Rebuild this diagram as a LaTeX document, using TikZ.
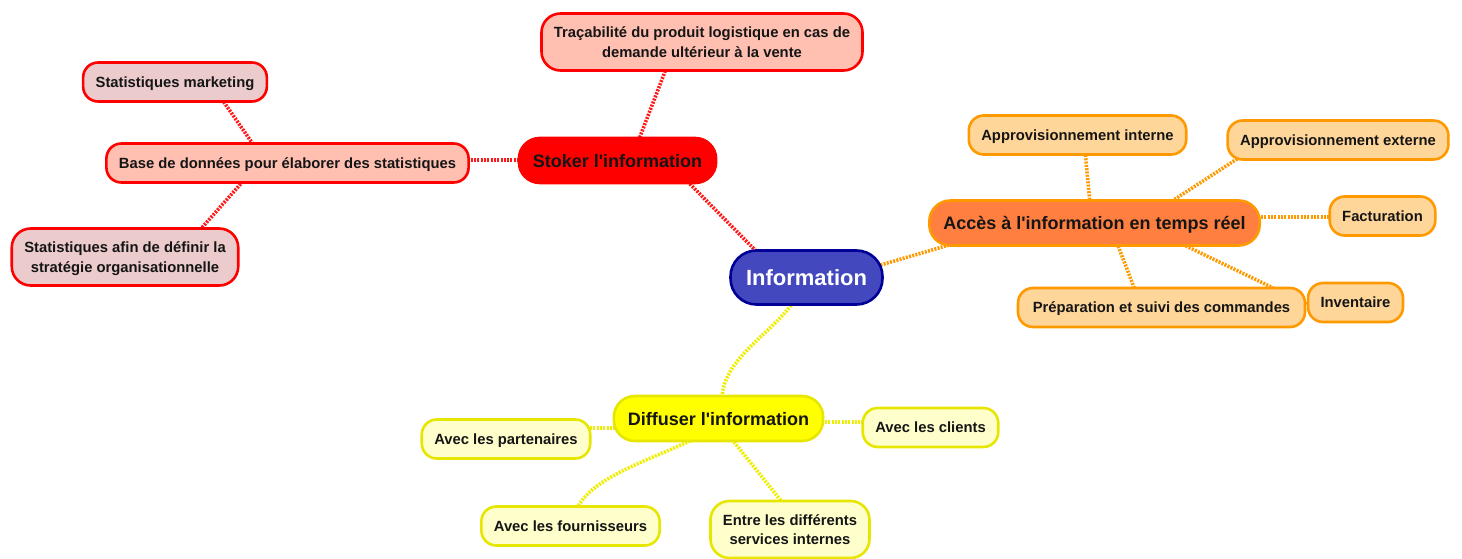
\documentclass[tikz,border=0pt]{standalone}
\usepackage{fontspec}
\setmainfont{Liberation Sans}[Ligatures=TeXOff]
\usetikzlibrary{calc}
\pgfdeclarelayer{paper}
\pgfdeclarelayer{links}
\pgfsetlayers{paper,links,main}

\definecolor{txt}{HTML}{151515}
\definecolor{redc}{HTML}{FF0000}
\definecolor{redlink}{HTML}{FF1A1A}
\definecolor{salmon}{HTML}{FFC0B2}
\definecolor{pinkgray}{HTML}{EBCBCB}
\definecolor{infofill}{HTML}{4348BE}
\definecolor{infoline}{HTML}{000096}
\definecolor{orangec}{HTML}{FF9900}
\definecolor{orangefill}{HTML}{FF7F40}
\definecolor{orangeleaf}{HTML}{FFD699}
\definecolor{yellowc}{HTML}{FFFF00}
\definecolor{yellowline}{HTML}{E6E600}
\definecolor{yellowleaf}{HTML}{FFFFCC}
\definecolor{yellowlink}{HTML}{EEEE00}

\tikzset{
  leafbox/.style={draw, line width=2.6pt, rounded corners=15pt, align=center,
    inner xsep=12.5pt, inner ysep=0pt, minimum height=39pt, text=txt, text depth=0pt,
    font=\bfseries\fontsize{14.8}{19.5}\selectfont},
  twoline/.style={minimum height=57pt, rounded corners=19pt},
  branchbox/.style={draw, line width=2.6pt, rounded corners=21pt, align=center,
    inner xsep=14pt, inner ysep=0pt, minimum height=45pt, text=txt, text depth=0pt,
    font=\bfseries\fontsize{18}{21}\selectfont},
  rootbox/.style={draw=infoline, fill=infofill, line width=2.6pt, rounded corners=26pt,
    inner xsep=15.5pt, inner ysep=0pt, minimum height=54pt, text=white, text depth=0pt,
    font=\bfseries\fontsize{22}{26}\selectfont},
  redleaf/.style={leafbox, draw=redc, fill=pinkgray},
  redmid/.style={leafbox, draw=redc, fill=salmon},
  orangeleafbox/.style={leafbox, draw=orangec, fill=orangeleaf},
  yellowleafbox/.style={leafbox, draw=yellowline, fill=yellowleaf},
  link/.style={line width=3.6pt, dash pattern=on 2pt off 1.3pt},
  redl/.style={link, draw=redlink},
  orangel/.style={link, draw=orangec},
  yellowl/.style={link, draw=yellowlink}
}

\begin{document}
\begin{tikzpicture}[x=1pt, y=-1pt]
\begin{pgfonlayer}{paper}
  \fill[white] (0,0) rectangle (1462,559);
\end{pgfonlayer}
\useasboundingbox (0,0) rectangle (1462,559);

% central topic
\node[rootbox] (info) at (806.5,277.5) {Information};

% storage branch
\node[branchbox, draw=redc, fill=redc] (stoker) at (617.5,160.5) {Stoker l'information};
\node[redmid, twoline] (trac) at (702,42) {Traçabilité du produit logistique en cas de\\demande ultérieur à la vente};
\node[redmid] (base) at (287.5,163) {Base de données pour élaborer des statistiques};
\node[redleaf] (mkt) at (175,82) {Statistiques marketing};
\node[redleaf, twoline] (afin) at (125,257) {Statistiques afin de définir la\\stratégie organisationnelle};

% real-time access branch
\node[branchbox, draw=orangec, fill=orangefill] (acces) at (1094.5,223) {Accès à l'information en temps réel};
\node[orangeleafbox] (appint) at (1077.5,135) {Approvisionnement interne};
\node[orangeleafbox] (appext) at (1338,140) {Approvisionnement externe};
\node[orangeleafbox] (fact) at (1382.5,216) {Facturation};
\node[orangeleafbox, minimum width=287pt] (prep) at (1161.5,307.5) {Préparation et suivi des commandes};
\node[orangeleafbox] (inv) at (1355.5,302.5) {Inventaire};

% distribution branch
\node[branchbox, draw=yellowline, fill=yellowc] (diff) at (718.5,418.5) {Diffuser l'information};
\node[yellowleafbox] (part) at (506,439) {Avec les partenaires};
\node[yellowleafbox] (four) at (570.5,526) {Avec les fournisseurs};
\node[yellowleafbox] (clients) at (930.5,427.5) {Avec les clients};
\node[yellowleafbox, twoline] (entre) at (790,529.5) {Entre les différents\\services internes};

\begin{pgfonlayer}{links}
  % red links
  \draw[redl] ($(stoker)+(70,21)$) -- ($(info)+(-49,-25)$);
  \draw[redl] ($(stoker)+(21,-20)$) -- ($(trac)+(-36,27)$);
  \draw[redl] ($(base)+(180,-3)$) -- ($(stoker)+(-95,-0.5)$);
  \draw[redl] ($(base)+(-32.5,-16)$) -- ($(mkt)+(46,16)$);
  \draw[redl] ($(base)+(-42.5,16)$) -- ($(afin)+(74,-26)$);
  % orange links
  \draw[orangel] ($(info)+(74,-12.5)$) -- ($(acces)+(-142,21)$);
  \draw[orangel] ($(acces)+(-4.5,-20)$) -- ($(appint)+(7.5,16)$);
  \draw[orangel] ($(acces)+(74.5,-20)$) -- ($(appext)+(-98,17)$);
  \draw[orangel] ($(acces)+(160,-6)$) -- ($(fact)+(-50,1)$);
  \draw[orangel] ($(acces)+(22.5,20)$) -- ($(prep)+(-26.5,-17.5)$);
  \draw[orangel] ($(acces)+(85.5,20)$) -- ($(inv)+(-43,4.5)$);
  % yellow links
  \draw[yellowl] ($(info)+(-13.5,25)$) .. controls (770,335) and (722,360) .. ($(diff)+(3.5,-19.5)$);
  \draw[yellowl] ($(diff)+(-100,9.5)$) -- ($(part)+(82,-11)$);
  \draw[yellowl] ($(diff)+(100,3.5)$) -- ($(clients)+(-63,-5.5)$);
  \draw[yellowl] ($(diff)+(-25.5,21)$) .. controls (650,460) and (590,478) .. ($(four)+(6.5,-17)$);
  \draw[yellowl] ($(diff)+(13.5,21)$) -- ($(entre)+(-8,-27.5)$);
\end{pgfonlayer}
\end{tikzpicture}
\end{document}
